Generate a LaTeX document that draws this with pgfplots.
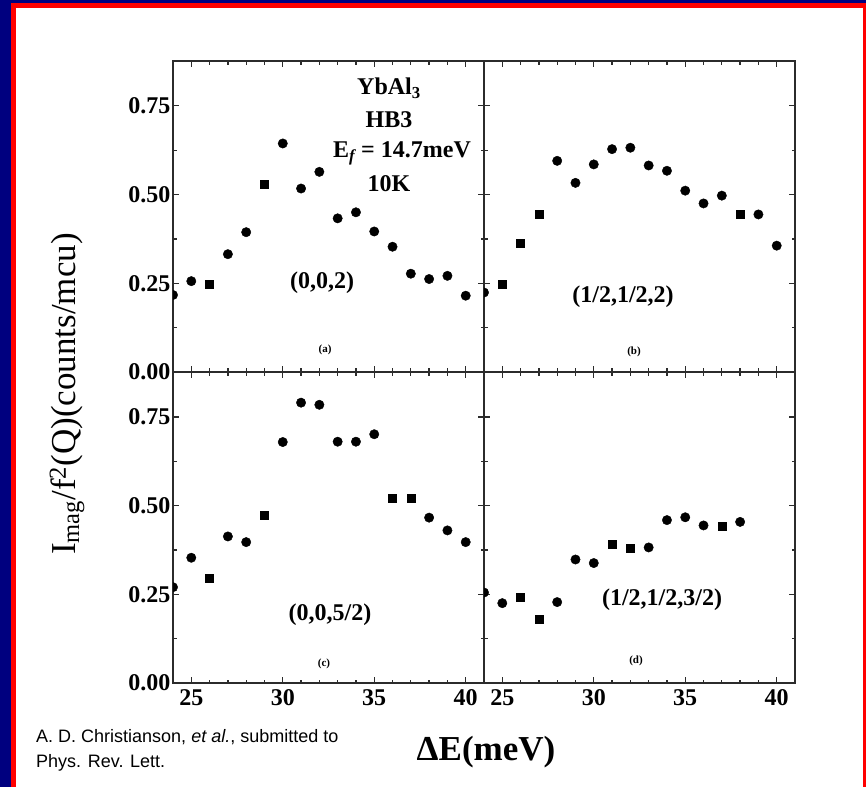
\documentclass[border=0pt]{standalone}
\usepackage{fontspec}
\setmainfont{Liberation Serif}
\newfontfamily\arialfont{Liberation Sans}
\usepackage{pgfplots}
\pgfplotsset{compat=1.18}

\definecolor{slidenavy}{HTML}{00007F}
\definecolor{framegray}{HTML}{2B2B2B}

\pgfplotsset{
  panel/.style={
    scale only axis, width=311pt, height=310.5pt,
    anchor=south west,
    xmin=24, xmax=41, ymin=0, ymax=0.875,
    xtick={25,30,35,40}, minor x tick num=4,
    ytick={0,0.25,0.5,0.75}, minor y tick num=1,
    yticklabels={0.00,0.25,0.50,0.75},
    tick align=inside, tick pos=both,
    major tick length=6pt, minor tick length=3.5pt,
    axis line style={framegray, line width=2pt},
    every tick/.style={framegray, line width=1.3pt},
    clip marker paths=true,
    /pgf/number format/assume math mode=true,
    tick label style={font=\fontsize{24}{24}\selectfont\bfseries, inner sep=0pt},
    xticklabel style={yshift=-6pt},
    yticklabel style={xshift=-2.5pt},
  },
  circ/.style={only marks, mark=*, mark size=4.7pt, black},
  sq/.style={only marks, mark=square*, mark size=4pt, black},
}

\begin{document}
\begin{tikzpicture}[x=1pt, y=1pt]
  % slide background: navy, red rule, white card
  \fill[slidenavy] (0,0) rectangle (866,787);
  \fill[red] (11,0) rectangle (866,784);
  \fill[white] (16,0) rectangle (863,779);

  % (0,0,2)
  \begin{axis}[panel, at={(173pt,415pt)}, xticklabels={}]
    \addplot[circ] coordinates {(24,0.217)(25,0.256)(27,0.332)(28,0.394)(30,0.644)(31,0.517)(32,0.564)(33,0.433)(34,0.450)(35,0.396)(36,0.353)(37,0.277)(38,0.262)(39,0.271)(40,0.215)};
    \addplot[sq] coordinates {(26,0.247)(29,0.530)};
  \end{axis}

  % (1/2,1/2,2)
  \begin{axis}[panel, at={(484pt,415pt)}, xticklabels={}, yticklabels={}]
    \addplot[circ] coordinates {(24,0.224)(28,0.595)(29,0.533)(30,0.585)(31,0.628)(32,0.632)(33,0.582)(34,0.567)(35,0.511)(36,0.475)(37,0.497)(39,0.444)(40,0.356)};
    \addplot[sq] coordinates {(25,0.247)(26,0.363)(27,0.446)(38,0.446)};
  \end{axis}

  % (0,0,5/2)
  \begin{axis}[panel, at={(173pt,104pt)}]
    \addplot[circ] coordinates {(24,0.270)(25,0.353)(27,0.413)(28,0.397)(30,0.679)(31,0.790)(32,0.784)(33,0.680)(34,0.680)(35,0.701)(38,0.466)(39,0.430)(40,0.397)};
    \addplot[sq] coordinates {(26,0.294)(29,0.472)(36,0.521)(37,0.521)};
  \end{axis}

  % (1/2,1/2,3/2)
  \begin{axis}[panel, at={(484pt,104pt)}, yticklabels={}]
    \addplot[circ] coordinates {(24,0.255)(25,0.225)(28,0.228)(29,0.348)(30,0.338)(33,0.382)(34,0.459)(35,0.467)(36,0.444)(38,0.454)};
    \addplot[sq] coordinates {(26,0.242)(27,0.179)(31,0.390)(32,0.379)(37,0.442)};
  \end{axis}

  % sample and instrument details
  \begin{scope}[every node/.style={font=\fontsize{24}{24}\selectfont\bfseries, anchor=base, inner sep=0pt}]
    \node at (389,692) {YbAl\textsubscript{3}};
    \node at (389,659) {HB3};
    \node at (402,629) {E\textsubscript{\itshape f} = 14.7meV};
    \node at (389,595) {10K};
  \end{scope}

  % wave vectors
  \begin{scope}[every node/.style={font=\fontsize{24}{24}\selectfont\bfseries, inner sep=0pt}]
    \node at (322,504) {(0,0,2)};
    \node at (623,490) {(1/2,1/2,2)};
    \node at (330,172) {(0,0,5/2)};
    \node at (662,187) {(1/2,1/2,3/2)};
  \end{scope}

  % panel letters
  \begin{scope}[every node/.style={font=\fontsize{11}{11}\selectfont\bfseries, inner sep=0pt}]
    \node at (325,437) {(a)};
    \node at (634,435) {(b)};
    \node at (324,123) {(c)};
    \node at (636,126) {(d)};
  \end{scope}

  % axis titles
  \node[font=\fontsize{35}{35}\selectfont\bfseries, inner sep=0pt] at (486,35) {ΔE(meV)};
  \node[font=\fontsize{35}{35}\selectfont, rotate=90, anchor=base, inner sep=0pt] at (75,393)
    {I\textsubscript{mag}/f\textsuperscript{2}(Q)(counts/mcu)};

  % reference
  \begin{scope}[every node/.style={font=\arialfont\fontsize{18}{18}\selectfont, anchor=base west, inner sep=0pt}]
    \node at (36,45) {A. D. Christianson, \textit{et al.}, submitted to};
    \node at (36,20) {Phys. Rev. Lett.};
  \end{scope}
\end{tikzpicture}
\end{document}
